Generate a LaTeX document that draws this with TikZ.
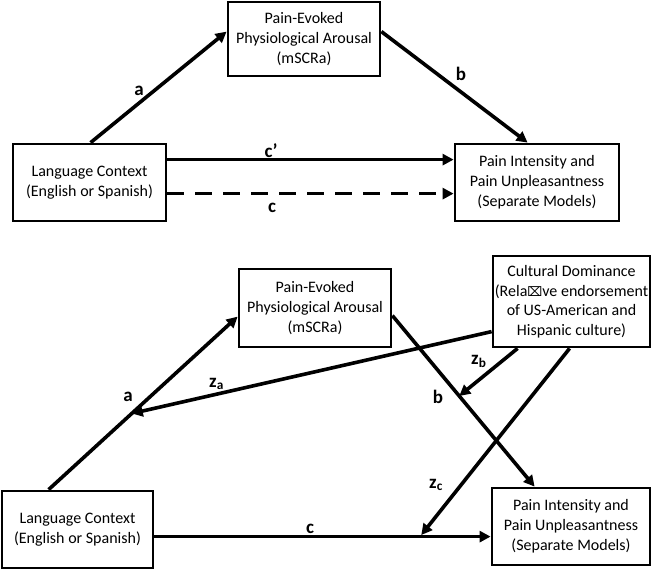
\documentclass[tikz,border=0pt]{standalone}
\usepackage{fontspec}
\setmainfont{Carlito}
\newfontfamily\symfont{DejaVu Sans}
\usetikzlibrary{arrows.meta,calc}
\begin{document}
\begin{tikzpicture}[x=1pt,y=-1pt,
  box/.style={draw,line width=2.8pt,rectangle,inner sep=0pt,align=center,
    font=\fontsize{16}{20}\selectfont},
  conn/.style={line width=3.6pt,-{Triangle[length=11pt,width=11pt]}},
  lbl/.style={font=\fontsize{19}{20}\selectfont\bfseries,inner sep=0pt,anchor=base},
  lbll/.style={lbl,anchor=base west}]
\useasboundingbox (0,0) rectangle (652,570);
% ---------- top model ----------
\node[box,minimum width=152pt,minimum height=74pt] (M1) at (304,39)
  {Pain-Evoked\\Physiological Arousal\\(mSCRa)};
\node[box,minimum width=153pt,minimum height=77pt] (X1) at (89.5,182.5)
  {Language Context\\(English or Spanish)};
\node[box,minimum width=164pt,minimum height=77pt] (Y1) at (537,182.5)
  {Pain Intensity and\\Pain Unpleasantness\\(Separate Models)};
\draw[conn] ([xshift=79pt]X1.north west) -- ([yshift=-31pt]M1.north west);
\draw[conn] ([yshift=-31pt]M1.north east) -- ([xshift=74pt]Y1.north west);
\draw[conn] ([yshift=-17pt]X1.north east) -- ([yshift=-17pt]Y1.north west);
\draw[conn,dash pattern=on 17pt off 11pt] ([yshift=-51pt]X1.north east) -- ([yshift=-51pt]Y1.north west);
\node[lbl] (la1) at (139,95) {a};
\node[lbl] (lb1) at (461,80) {b};
\node[lbl] (lcp) at (271,157) {c’};
\node[lbl] (lc1) at (272,212) {c};
% ---------- bottom model ----------
\node[box,minimum width=152pt,minimum height=78pt] (M2) at (315,308)
  {Pain-Evoked\\Physiological Arousal\\(mSCRa)};
\node[box,minimum width=157pt,minimum height=91pt,font=\fontsize{16}{19.5}\selectfont] (W) at (571.5,301.5)
  {Cultural Dominance\\(Rela{\symfont\fontsize{13}{13}\selectfont ⌧}ve endorsement\\of US-American and\\Hispanic culture)};
\node[box,minimum width=151pt,minimum height=77pt] (X2) at (77.5,529.5)
  {Language Context\\(English or Spanish)};
\node[box,minimum width=158pt,minimum height=77pt] (Y2) at (571,526.5)
  {Pain Intensity and\\Pain Unpleasantness\\(Separate Models)};
\coordinate (a2s) at ([xshift=48pt]X2.north west);
\coordinate (a2e) at ([yshift=-49pt]M2.north west);
\coordinate (b2s) at ([yshift=-48pt]M2.north east);
\coordinate (b2e) at ([xshift=44pt]Y2.north west);
\coordinate (c2s) at ([yshift=-47pt]X2.north east);
\coordinate (c2e) at ([yshift=-50pt]Y2.north west);
\draw[conn] (a2s) -- (a2e);
\draw[conn] (b2s) -- (b2e);
\draw[conn] (c2s) -- (c2e);
\draw[conn] ([yshift=-77pt]W.north west) -- ($(a2s)!0.44!(a2e)$);
\draw[conn] ([xshift=26pt]W.south west) -- ($(b2s)!0.47!(b2e)$);
\draw[conn,shorten >=2pt] ([xshift=78pt]W.south west) -- ($(c2s)!0.79!(c2e)$);
\node[lbl] (la2) at (128,401) {a};
\node[lbll] (lza) at (209,387) {z\textsubscript{a}};
\node[lbl] (lb2) at (438,403) {b};
\node[lbll] (lzb) at (471,364) {z\textsubscript{b}};
\node[lbll] (lzc) at (429,488) {z\textsubscript{c}};
\node[lbl] (lc2) at (310,533) {c};
\end{tikzpicture}
\end{document}
